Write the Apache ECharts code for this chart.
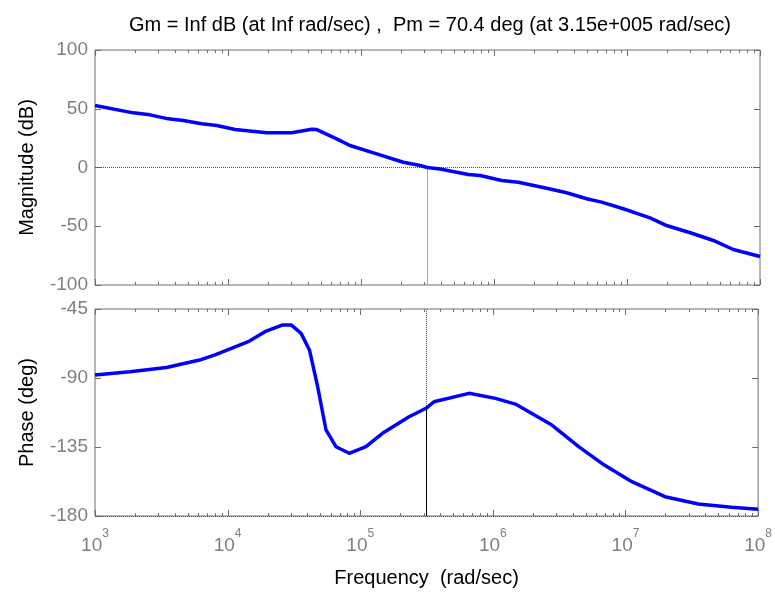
<!DOCTYPE html>
<html><head><meta charset="utf-8">
<script src="https://cdn.jsdelivr.net/npm/echarts@6/dist/echarts.min.js"></script>
<style>html,body{margin:0;padding:0;background:#fff}#c{width:775px;height:592px}</style>
</head><body><div id="c"></div>
<script>
// ---- data ----
const freqMag = [1000, 1940, 2590, 3560, 4610, 6340, 8220, 11300, 19500, 30100, 42600, 46500, 65600, 82600, 131200, 208000, 278000, 315000, 393000, 641000, 785000, 1143000, 1524000, 2489000, 3516000, 4977000, 6442000, 9376000, 14890000, 19860000, 31550000, 44570000, 62950000, 100000000];
const magDb = [52.8, 46.5, 44.8, 41.4, 40.0, 37.2, 35.7, 32.3, 29.5, 29.5, 32.6, 32.3, 24.4, 18.7, 11.6, 4.5, 1.7, 0.0, -1.3, -6.0, -6.8, -11.1, -12.5, -17.6, -21.5, -26.6, -29.5, -35.1, -42.8, -49.4, -56.4, -62.1, -69.8, -75.7];
const freqPhase = [1000, 1832, 3459, 6152, 8222, 14620, 19540, 26060, 30130, 35810, 41400, 47750, 55200, 65600, 82600, 110400, 147200, 233300, 278000, 315000, 359700, 660700, 1047000, 1479000, 2786000, 4436000, 6637000, 11170000, 19860000, 35400000, 62950000, 100000000];
const phaseDeg = [-88.0, -85.9, -83.1, -78.3, -74.6, -65.9, -59.4, -55.4, -55.4, -60.9, -71.7, -95.7, -123.9, -134.8, -139.1, -134.8, -126.1, -115.3, -112.0, -109.6, -105.5, -100.0, -103.3, -107.0, -120.7, -134.8, -145.7, -157.6, -167.4, -172.2, -174.3, -175.6];
const magRange = [-100, 100];
const magStep = 50;
const phaseRange = [-180, -45];
const phaseStep = 45;
const freqRange = [1e3, 1e8];
const decades = [1e3, 1e4, 1e5, 1e6, 1e7, 1e8];
const minorMult = [2, 3, 4, 5, 6, 7, 8, 9];
const crossFreq = 3.15e5;
const crossPhase = -109.6;
const titleText = 'Gm = Inf dB (at Inf rad/sec) ,  Pm = 70.4 deg (at 3.15e+005 rad/sec)';
const magName = 'Magnitude (dB)';
const phaseName = 'Phase (deg)';
const freqName = 'Frequency  (rad/sec)';

// ---- styling ----
const FONT = 'Liberation Sans, Arial, sans-serif';
const frameColor = '#6f6f6f';
const labelColor = '#7f7f7f';
const MAJOR_LEN = 6, MINOR_LEN = 3;

// x tick marks (major decades + minor 2..9 multiples), drawn on top and bottom edges
const xTicks = [];
decades.forEach((d, i) => {
  xTicks.push([d, MAJOR_LEN]);
  if (i < decades.length - 1) minorMult.forEach(m => xTicks.push([m * d, MINOR_LEN]));
});

const grids = [
  {left: 95, top: 50, width: 665, height: 235},
  {left: 95, top: 309, width: 665, height: 207}
].map(g => Object.assign(g, {show: true, borderColor: frameColor, borderWidth: 1, backgroundColor: 'transparent'}));

function logAxis(gi, labels) {
  return {
    type: 'log', logBase: 10, gridIndex: gi, position: 'bottom', min: freqRange[0], max: freqRange[1],
    axisLine: {show: false, onZero: false}, splitLine: {show: false},
    axisTick: {show: false},
    axisLabel: labels ? {
      show: true, margin: 12,
      formatter: v => '{b|10}{e|' + Math.round(Math.log10(v)) + '}',
      rich: {
        b: {fontSize: 19, fontFamily: FONT, color: labelColor, lineHeight: 27, verticalAlign: 'bottom'},
        e: {fontSize: 12, fontFamily: FONT, color: labelColor, lineHeight: 27, verticalAlign: 'top'}
      }
    } : {show: false},
    name: labels ? freqName : '', nameLocation: 'middle', nameGap: 52,
    nameTextStyle: {fontSize: 20, fontFamily: FONT, color: '#000'}
  };
}
function yAx(gi, pos, range, step, name) {
  return {
    type: 'value', gridIndex: gi, position: pos, min: range[0], max: range[1], interval: step,
    axisLine: {show: false, onZero: false}, splitLine: {show: false},
    axisTick: {show: true, inside: true, length: MAJOR_LEN, lineStyle: {color: frameColor}},
    axisLabel: name ? {show: true, fontSize: 19, fontFamily: FONT, color: labelColor, margin: 7} : {show: false},
    name: name || '', nameLocation: 'middle', nameGap: 58,
    nameTextStyle: {fontSize: 20, fontFamily: FONT, color: '#000'}
  };
}
function tickSeries(xi, yi) {
  return {
    type: 'custom', xAxisIndex: xi, yAxisIndex: yi, silent: true, z: 3,
    encode: {x: 0},
    data: xTicks,
    renderItem: (params, api) => {
      const cs = params.coordSys;
      const x = Math.round(api.coord([api.value(0), 0])[0]) + 0.5;
      const len = api.value(1);
      const st = {stroke: frameColor, lineWidth: 1};
      return {type: 'group', children: [
        {type: 'line', shape: {x1: x, y1: cs.y, x2: x, y2: cs.y + len}, style: st},
        {type: 'line', shape: {x1: x, y1: cs.y + cs.height, x2: x, y2: cs.y + cs.height - len}, style: st}
      ]};
    }
  };
}

const dotted = {type: 'dotted', color: '#555', width: 1};
const option = {
  animation: false,
  backgroundColor: '#fff',
  title: {text: titleText, left: 425, top: 10, textAlign: 'center',
    textStyle: {fontSize: 20, fontWeight: 'normal', fontFamily: FONT, color: '#000'}},
  grid: grids,
  xAxis: [logAxis(0, false), logAxis(1, true)],
  yAxis: [
    yAx(0, 'left', magRange, magStep, magName), yAx(0, 'right', magRange, magStep, null),
    yAx(1, 'left', phaseRange, phaseStep, phaseName), yAx(1, 'right', phaseRange, phaseStep, null)
  ],
  series: [
    tickSeries(0, 0),
    tickSeries(1, 2),
    {
      type: 'line', xAxisIndex: 0, yAxisIndex: 0, showSymbol: false, symbol: 'none',
      data: freqMag.map((f, i) => [f, magDb[i]]),
      lineStyle: {color: '#0000ff', width: 3.5}, z: 5,
      markLine: {
        silent: true, symbol: 'none', label: {show: false}, animation: false,
        lineStyle: dotted,
        data: [
          {yAxis: 0},
          [{coord: [crossFreq, 0]}, {coord: [crossFreq, magRange[0]]}]
        ]
      }
    },
    {
      type: 'line', xAxisIndex: 1, yAxisIndex: 2, showSymbol: false, symbol: 'none',
      data: freqPhase.map((f, i) => [f, phaseDeg[i]]),
      lineStyle: {color: '#0000ff', width: 3.5}, z: 5,
      markLine: {
        silent: true, symbol: 'none', label: {show: false}, animation: false,
        lineStyle: dotted,
        data: [
          {yAxis: phaseRange[0]},
          [{coord: [crossFreq, phaseRange[1]]}, {coord: [crossFreq, crossPhase]}],
          [{coord: [crossFreq, crossPhase], lineStyle: {type: 'solid', color: '#000', width: 1}},
           {coord: [crossFreq, phaseRange[0]], lineStyle: {type: 'solid', color: '#000', width: 1}}]
        ]
      }
    }
  ]
};
const chart = echarts.init(document.getElementById('c'), null, {renderer: 'canvas'});
chart.setOption(option);
</script></body></html>
